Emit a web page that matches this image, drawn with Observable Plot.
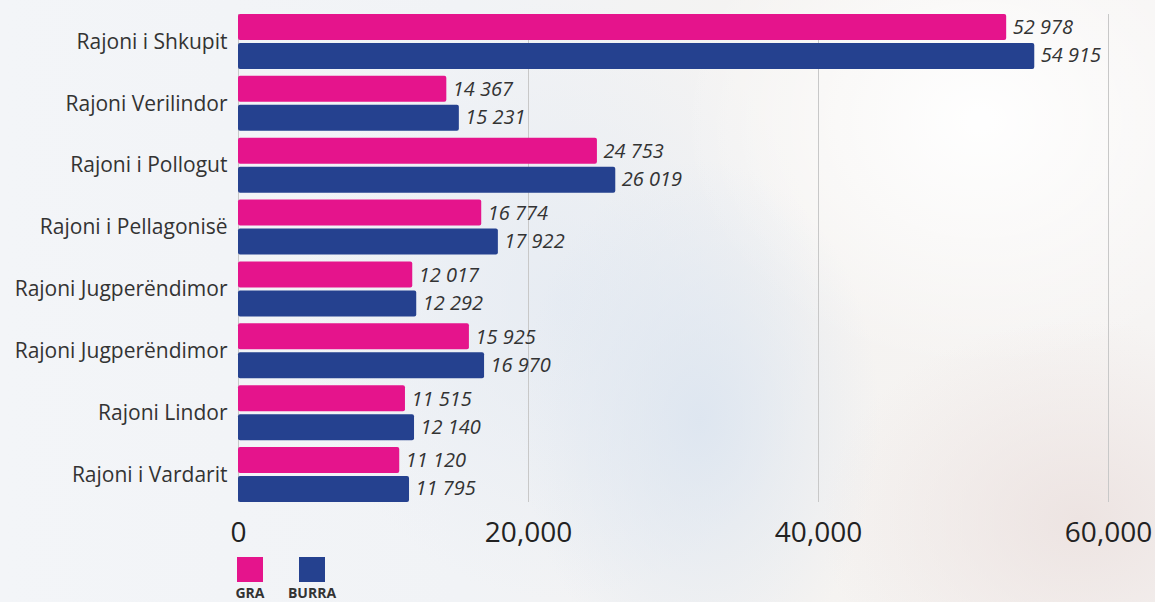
<!DOCTYPE html>
<html>
<head>
<meta charset="utf-8">
<script src="https://cdn.jsdelivr.net/npm/d3@7"></script>
<script src="https://cdn.jsdelivr.net/npm/@observablehq/plot@0.6"></script>
<style>
  html, body { margin: 0; padding: 0; width: 1155px; height: 602px; overflow: hidden; }
  body {
    font-family: "Open Sans", sans-serif;
    background:
      radial-gradient(ellipse 180px 260px at 700px 420px, rgba(220,229,240,0.9), rgba(220,229,240,0) 100%),
      radial-gradient(ellipse 260px 200px at 1080px 520px, rgba(236,226,224,0.9), rgba(236,226,224,0) 100%),
      radial-gradient(ellipse 300px 250px at 980px 120px, rgba(255,255,255,0.95), rgba(255,255,255,0) 100%),
      radial-gradient(ellipse 260px 300px at 560px 300px, rgba(228,234,242,0.8), rgba(228,234,242,0) 100%),
      linear-gradient(90deg, #f3f5f8 0%, #f1f3f6 40%, #f5f3f1 70%, #f6f4f3 100%);
    position: relative;
  }
  #chart { position: absolute; left: 0; top: 0; }
  #legend { position: absolute; left: 237px; top: 557px; display: flex; gap: 36px; }
  .item { display: flex; flex-direction: column; align-items: center; width: 26px; }
  .sw { width: 26px; height: 25px; flex: none; }
  .lab { font-size: 14px; font-weight: 700; color: #333; margin-top: 3px; line-height: 15px; white-space: nowrap; }
</style>
</head>
<body>
<div id="chart"></div>
<div id="legend"></div>
<script>
const regions = ["Rajoni i Shkupit", "Rajoni Verilindor", "Rajoni i Pollogut", "Rajoni i Pellagonisë",
  "Rajoni Jugperëndimor", "Rajoni Jugperëndimor", "Rajoni Lindor", "Rajoni i Vardarit"];
const gra = [52978, 14367, 24753, 16774, 12017, 15925, 11515, 11120];
const burra = [54915, 15231, 26019, 17922, 12292, 16970, 12140, 11795];
const seriesNames = ["GRA", "BURRA"];
const seriesColors = ["#e5148c", "#25418f"];
const xTicks = [0, 20000, 40000, 60000];

const ids = regions.map((_, i) => i);
const rows = ids.map(i => ({id: i, gra: gra[i], burra: burra[i]}));
const fmt = v => d3.format(",")(v).replace(/,/g, " ");

const bandInset = 29;

const chart = Plot.plot({
  width: 1155,
  height: 555,
  marginLeft: 238,
  marginRight: 47,
  marginTop: 14,
  marginBottom: 53,
  style: {background: "transparent", fontFamily: "Open Sans, sans-serif", color: "#333"},
  x: {domain: [0, 60000], ticks: xTicks, label: null},
  y: {domain: ids, paddingInner: 7/62, paddingOuter: 0, round: false, label: null},
  marks: [
    Plot.gridX(xTicks, {stroke: "#c8c8c8", strokeOpacity: 1, strokeWidth: 1}),
    Plot.barX(rows, {y: "id", x: "gra", fill: seriesColors[0], insetBottom: bandInset, rx: 2}),
    Plot.barX(rows, {y: "id", x: "burra", fill: seriesColors[1], insetTop: bandInset, rx: 2}),
    Plot.text(rows, {y: "id", x: "gra", text: d => fmt(d.gra), dy: -14, dx: 6, textAnchor: "start",
      fontSize: 20, fontStyle: "italic", fill: "#333"}),
    Plot.text(rows, {y: "id", x: "burra", text: d => fmt(d.burra), dy: 14, dx: 6, textAnchor: "start",
      fontSize: 20, fontStyle: "italic", fill: "#333"}),
    Plot.axisY({tickSize: 0, tickPadding: 11, tickFormat: i => regions[i], fontSize: 21, fill: "#333", label: null}),
    Plot.axisX({ticks: xTicks, tickSize: 0, tickPadding: 20, fontSize: 28, fill: "#222", label: null,
      tickFormat: d3.format(",")})
  ]
});
document.getElementById("chart").appendChild(chart);

const legend = document.getElementById("legend");
seriesNames.forEach((name, i) => {
  const it = document.createElement("div");
  it.className = "item";
  const sw = document.createElement("div");
  sw.className = "sw";
  sw.style.background = seriesColors[i];
  const lab = document.createElement("div");
  lab.className = "lab";
  lab.textContent = name;
  it.appendChild(sw);
  it.appendChild(lab);
  legend.appendChild(it);
});
</script>
</body>
</html>
